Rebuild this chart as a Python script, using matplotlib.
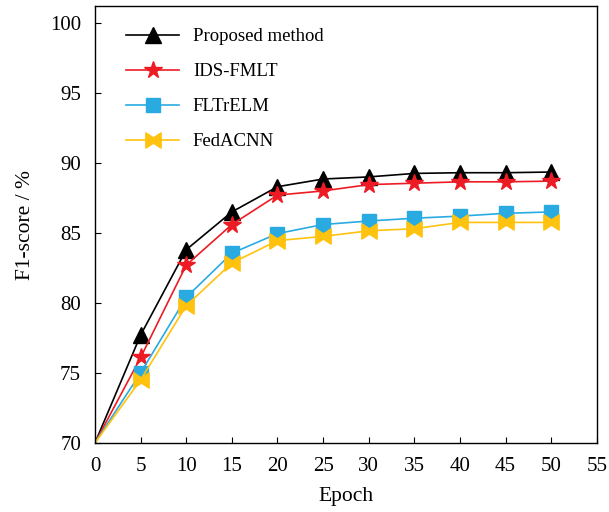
import numpy as np
import matplotlib
matplotlib.use("Agg")
import matplotlib.pyplot as plt
from matplotlib.path import Path

plt.rcParams['font.family'] = ['Liberation Serif', 'DejaVu Serif']

epochs = [0, 5, 10, 15, 20, 25, 30, 35, 40, 45, 50]
proposed = [70, 77.7, 83.8, 86.5, 88.3, 88.85, 89.0, 89.25, 89.3, 89.3, 89.35]
ids_fmlt = [70, 76.1, 82.7, 85.6, 87.7, 88.0, 88.45, 88.55, 88.65, 88.65, 88.7]
fltrelm = [70, 75.0, 80.4, 83.55, 84.95, 85.6, 85.85, 86.05, 86.2, 86.4, 86.5]
fedacnn = [70, 74.5, 79.8, 82.85, 84.45, 84.75, 85.15, 85.3, 85.75, 85.75, 85.75]

# bow-tie marker for FedACNN
bowtie = Path([(-1, 1), (0, 0.35), (1, 1), (1, -1), (0, -0.35), (-1, -1), (-1, 1)],
              [Path.MOVETO, Path.LINETO, Path.LINETO, Path.LINETO,
               Path.LINETO, Path.LINETO, Path.CLOSEPOLY])

series = [
    ("Proposed method", proposed, "black", "^", 11),
    ("IDS-FMLT", ids_fmlt, "#ED1C24", "*", 13),
    ("FLTrELM", fltrelm, "#29ABE2", "s", 9.5),
    ("FedACNN", fedacnn, "#FFC20E", bowtie, 11),
]

fig = plt.figure(figsize=(6.09, 5.12), dpi=100)
ax = fig.add_axes([0.156, 0.135, 0.824, 0.853])

for name, vals, col, mk, ms in series:
    ax.plot(epochs, vals, color=col, lw=1.2, marker=mk, markersize=ms,
            markevery=list(range(1, len(epochs))), markeredgecolor=col,
            markerfacecolor=col, label=name)

ax.set_xlim(0, 55)
ax.set_ylim(70, 101.2)
ax.set_xticks(range(0, 56, 5))
ax.set_yticks(range(70, 101, 5))
ax.tick_params(direction='in', length=4, labelsize=15, top=False, right=False)
ax.tick_params(axis='x', pad=10)
ax.tick_params(axis='y', pad=10)
ax.set_xlabel("Epoch", fontsize=15.5, labelpad=8)
ax.set_ylabel("F1-score / %", fontsize=15.5, labelpad=11)
for s in ax.spines.values():
    s.set_linewidth(1.0)

ax.legend(loc='upper left', frameon=False, fontsize=13.5, handlelength=2.8,
          handletextpad=0.75, labelspacing=0.95, borderaxespad=0.2,
          bbox_to_anchor=(0.04, 0.975))

fig.savefig("out.png", dpi=100)
